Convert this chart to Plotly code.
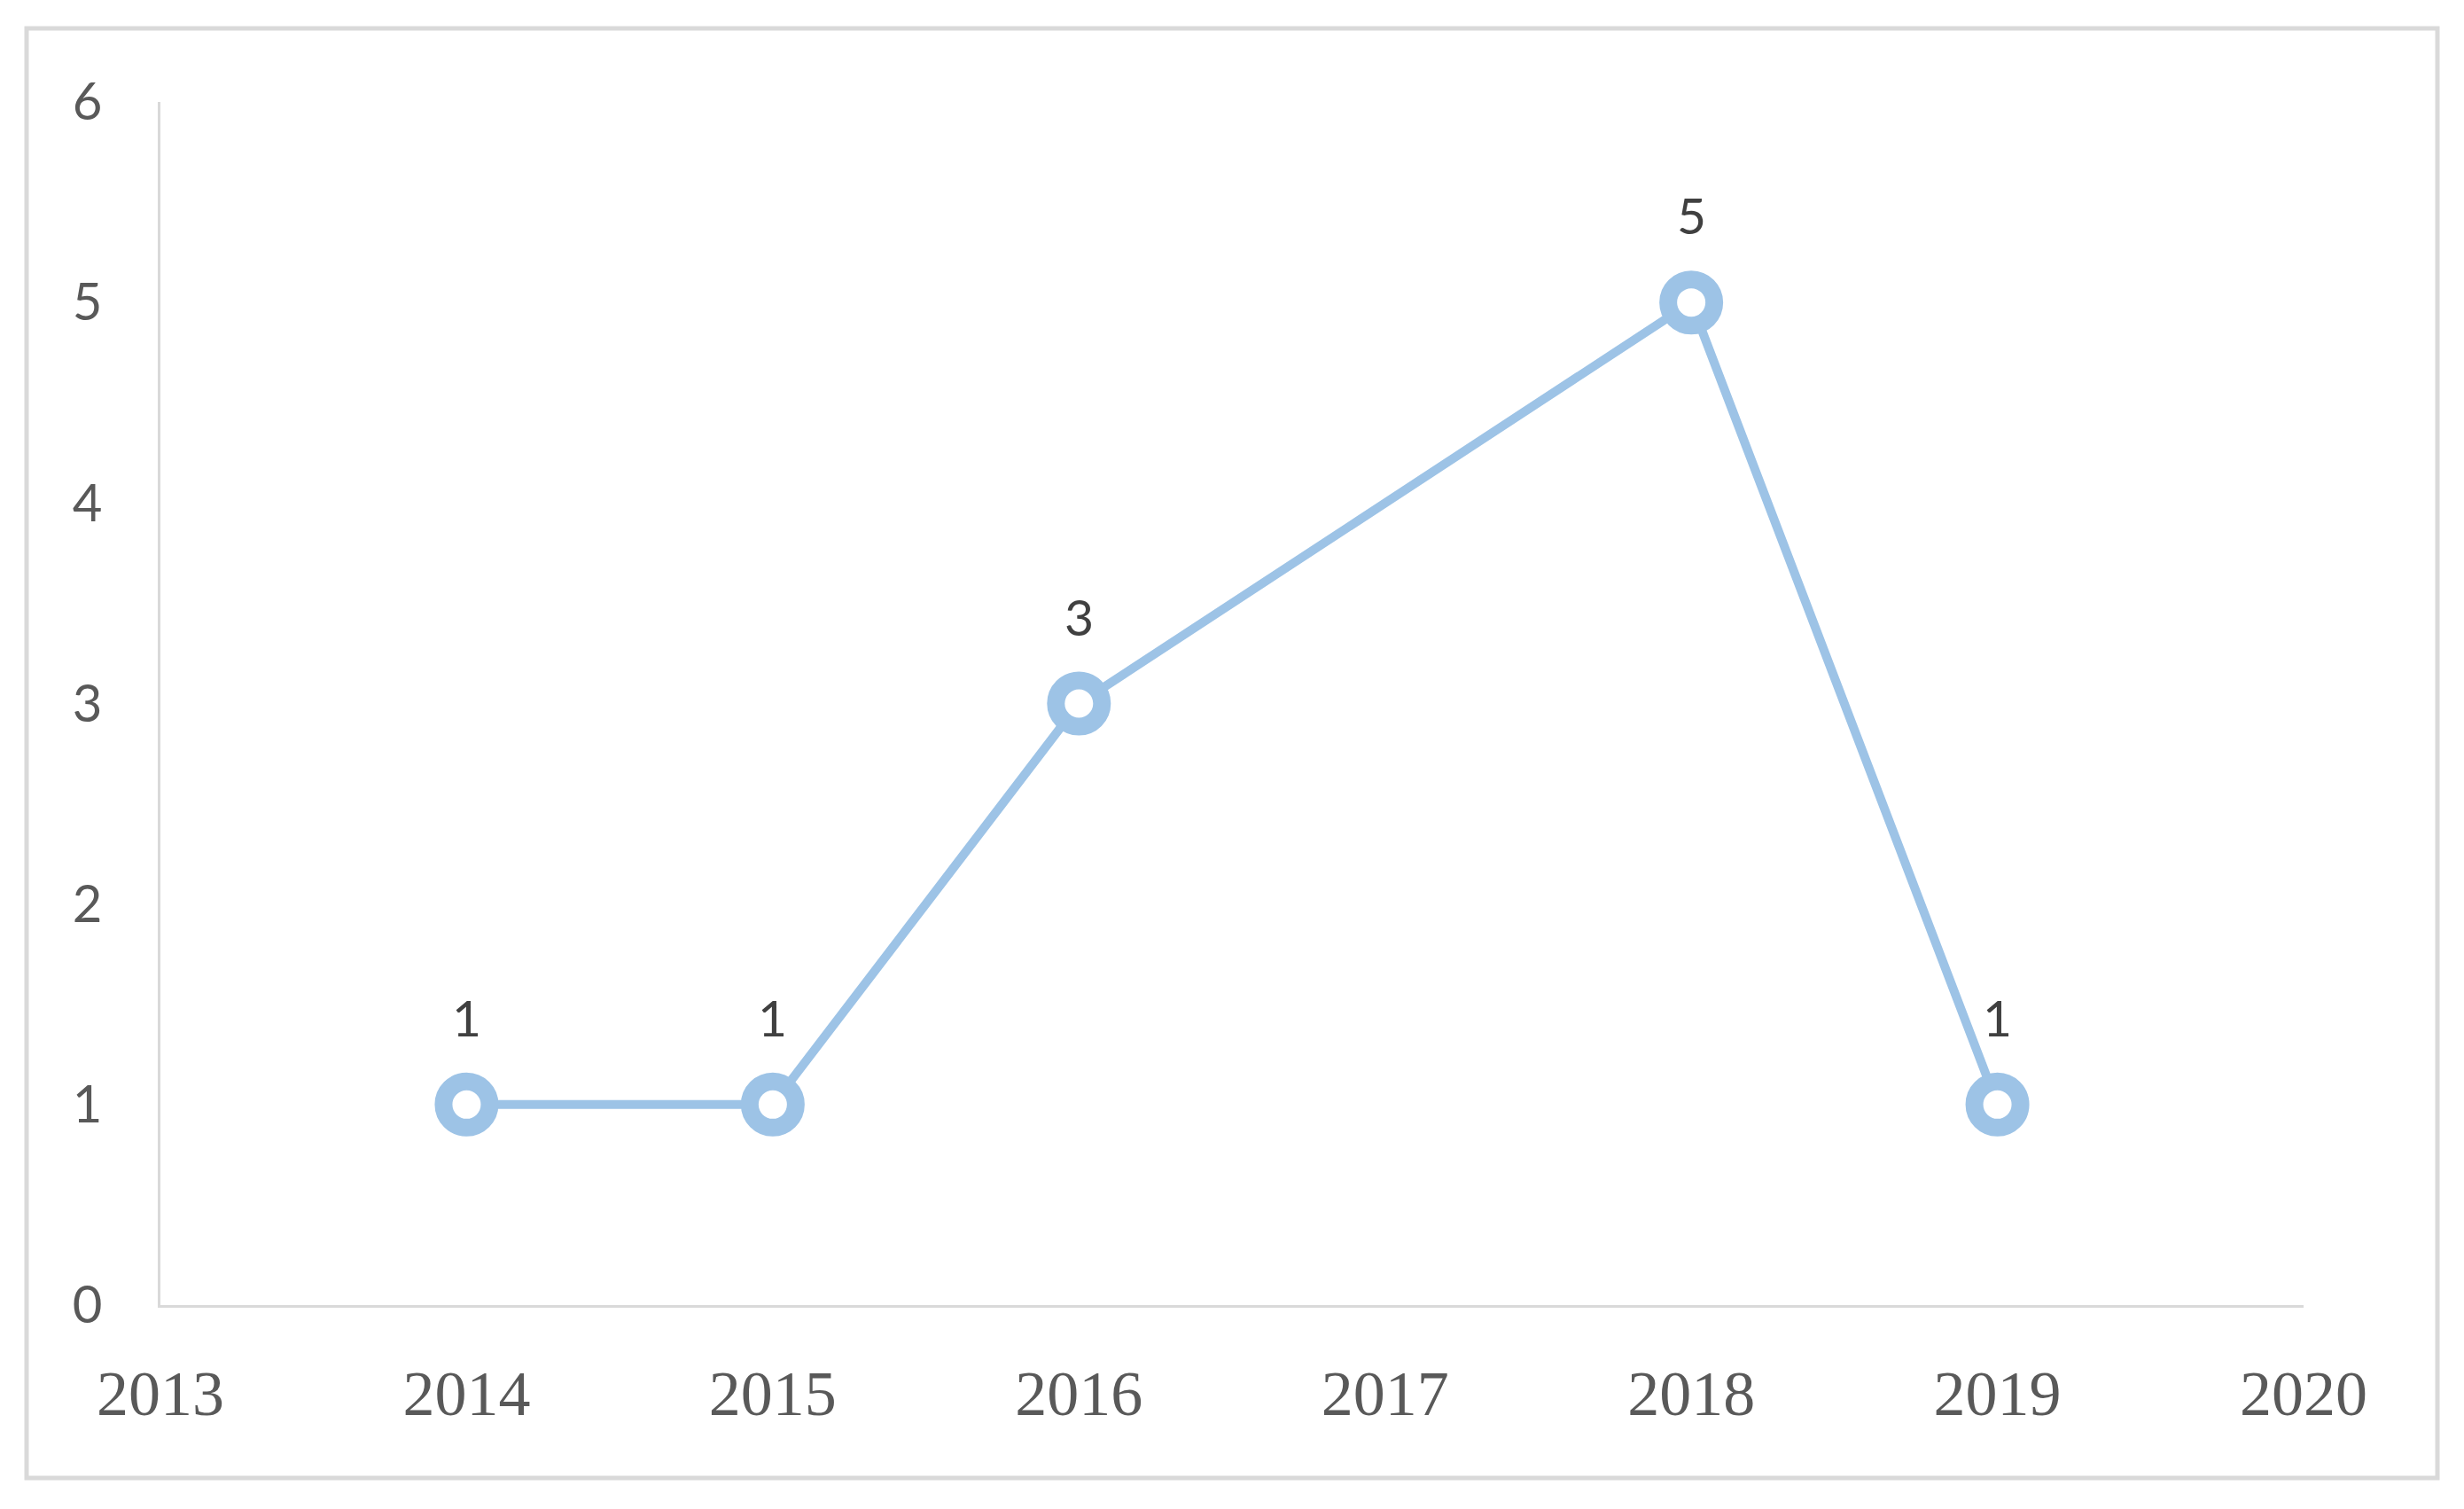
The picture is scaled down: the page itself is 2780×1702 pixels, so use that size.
import plotly.graph_objects as go

# data
years = [2014, 2015, 2016, 2018, 2019]
counts = [1, 1, 3, 5, 1]
x_ticks = [2013, 2014, 2015, 2016, 2017, 2018, 2019, 2020]
y_ticks = [0, 1, 2, 3, 4, 5, 6]

W, H = 2780, 1702
# page body adds ~8px, margins are set a bit tighter to compensate
L, R, T, B = 173, 189, 107, 238
blue = "#9DC3E6"
axis_grey = "#D9D9D9"

fig = go.Figure()
fig.add_trace(
    go.Scatter(
        x=years,
        y=counts,
        mode="lines+markers",
        line=dict(color=blue, width=10),
        marker=dict(size=52, color="white", line=dict(color=blue, width=20)),
        hoverinfo="x+y",
    )
)

# data labels above each point
for x, y in zip(years, counts):
    fig.add_annotation(
        x=x, y=y, text=str(y), showarrow=False, yshift=99,
        font=dict(family="Lato", size=57, color="#404040"),
    )

# outer chart border, given in pixels then turned into paper units
pw, ph = W - L - R, H - T - B
bx0, bx1, by0, by1 = 22, 2742, 24, 1659
fig.add_shape(
    type="rect", xref="paper", yref="paper",
    x0=(bx0 - L) / pw, x1=(bx1 - L) / pw,
    y0=(H - B - by1) / ph, y1=(H - B - by0) / ph,
    line=dict(color=axis_grey, width=5),
)

fig.update_layout(
    width=W, height=H,
    margin=dict(l=L, r=R, t=T, b=B),
    paper_bgcolor="white", plot_bgcolor="white",
    showlegend=False,
)
fig.update_xaxes(
    range=[2013, 2020], tickvals=x_ticks,
    showgrid=False, zeroline=False,
    showline=True, linecolor=axis_grey, linewidth=3,
    ticklabelstandoff=35,
    tickfont=dict(family="Liberation Serif", size=72, color="#595959"),
)
fig.update_yaxes(
    range=[0, 6], tickvals=y_ticks,
    showgrid=False, zeroline=False,
    showline=True, linecolor=axis_grey, linewidth=3,
    ticklabelstandoff=51,
    tickfont=dict(family="Lato", size=58, color="#595959"),
)

fig.write_html("out.html")
